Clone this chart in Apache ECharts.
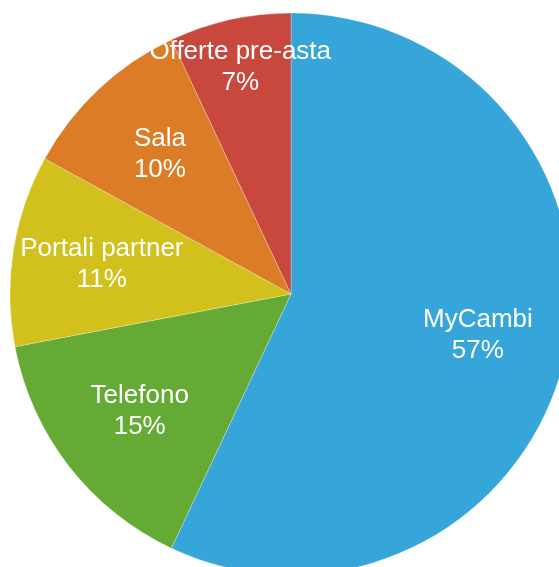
<!DOCTYPE html>
<html>
<head>
<meta charset="utf-8">
<script src="https://cdn.jsdelivr.net/npm/echarts@6/dist/echarts.min.js"></script>
<style>
  html, body { margin: 0; padding: 0; background: #fff; }
  #chart { width: 559px; height: 567px; }
</style>
</head>
<body>
<div id="chart"></div>
<script>
// ── Dati ─────────────────────────────────────────────────────────────
const CATEGORIES = ['MyCambi', 'Telefono', 'Portali partner', 'Sala', 'Offerte pre-asta'];
const VALUES     = [57, 15, 11, 10, 7];
const COLORS     = ['#36a5da', '#66aa36', '#d2c11d', '#dd7c26', '#c9483d'];

const CENTER = [291, 294];
const RADIUS = 281;

const chart = echarts.init(document.getElementById('chart'), null, { renderer: 'canvas' });

// etichette spostate per le fette strette
const labelOffsets = { 'Offerte pre-asta': [-9, -40] };

const sliceData = CATEGORIES.map((name, i) => ({
  name,
  value: VALUES[i],
  itemStyle: { color: COLORS[i] },
}));

const labelData = CATEGORIES.map((name, i) => ({
  name,
  value: VALUES[i],
  label: labelOffsets[name] ? { offset: labelOffsets[name] } : undefined,
}));

chart.setOption({
  animation: false,
  textStyle: { fontFamily: '"Helvetica Neue", Helvetica, "Liberation Sans", Arial, sans-serif' },
  series: [
    {
      type: 'pie',
      center: CENTER,
      radius: [0, RADIUS],
      startAngle: 90,
      clockwise: true,
      silent: true,
      label: { show: false },
      labelLine: { show: false },
      itemStyle: { borderColor: 'rgba(255,255,255,0.45)', borderWidth: 0.6 },
      data: sliceData,
    },
    {
      // serie trasparente solo per posizionare le etichette
      type: 'pie',
      center: CENTER,
      radius: [96, RADIUS],
      startAngle: 90,
      clockwise: true,
      silent: true,
      itemStyle: { color: 'transparent' },
      label: {
        show: true,
        position: 'inside',
        color: '#fff',
        fontSize: 26,
        lineHeight: 31,
        fontFamily: '"Helvetica Neue", Helvetica, "Liberation Sans", Arial, sans-serif',
        formatter: (p) => `${p.name}\n${p.value}%`,
      },
      labelLine: { show: false },
      data: labelData,
    },
  ],
});
</script>
</body>
</html>
